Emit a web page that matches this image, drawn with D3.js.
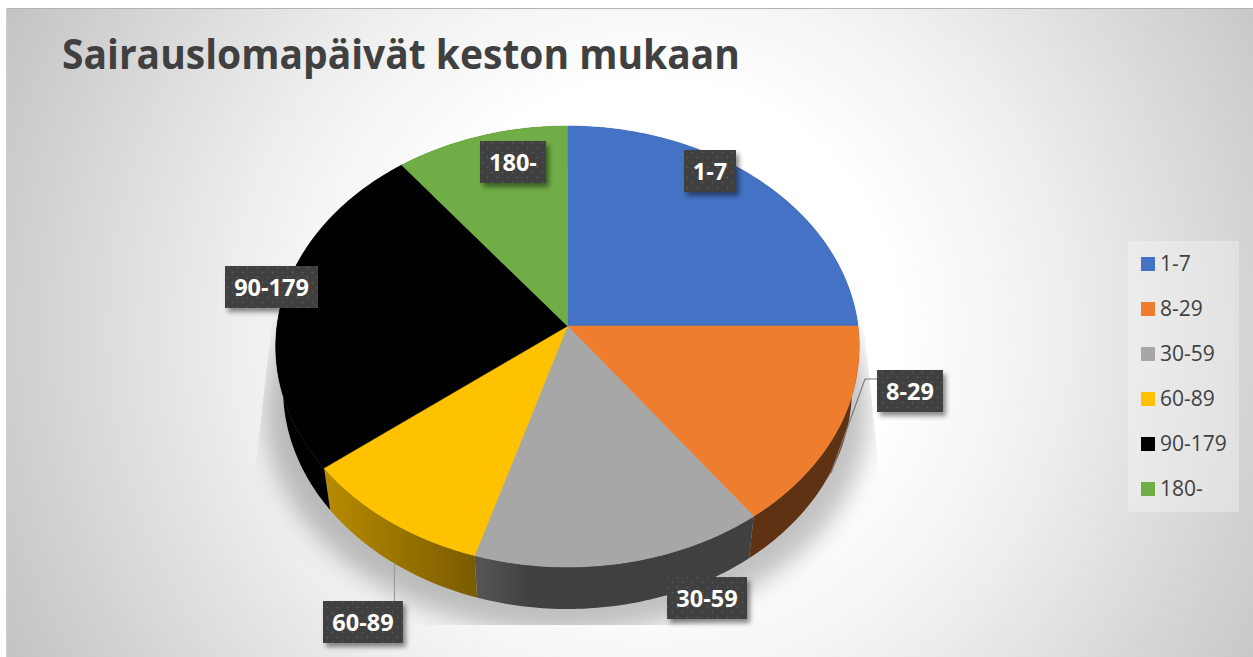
<!DOCTYPE html>
<html>
<head>
<meta charset="utf-8">
<script src="https://cdn.jsdelivr.net/npm/d3@7"></script>
<style>
  html, body { margin: 0; padding: 0; background: #fff; overflow: hidden; }
  text { font-family: "Open Sans", sans-serif; }
</style>
</head>
<body>
<svg width="1253" height="657"></svg>
<script>
var titleText = "Sairauslomapäivät keston mukaan";
var categories = ["1-7", "8-29", "30-59", "60-89", "90-179", "180-"];
var shares = [25, 14.9, 14.8, 9.8, 25, 10.5];
var topColors = ["#4472c4", "#ef7d2e", "#a7a7a7", "#ffc200", "#000000", "#70ad47"];
var wallLeftColors = ["#22396a", "#5f3213", "#565656", "#b88b00", "#000000", "#38562a"];
var wallRightColors = ["#22396a", "#5f3213", "#404040", "#7a5c00", "#000000", "#38562a"];

// Perspective of the pie, measured on the picture
var apex = {x: 567.5, y: 326},
    rx = 290.5,
    ry = 218.6,
    persp = 0.093,
    depth = 42,
    bottomScale = 0.975;

var svg = d3.select("svg");
var defs = svg.append("defs");

var bg = defs.append("radialGradient")
    .attr("id", "bg")
    .attr("gradientUnits", "userSpaceOnUse")
    .attr("cx", 650).attr("cy", 330).attr("r", 715);
[[0, "#ffffff"], [0.35, "#ffffff"], [0.58, "#eeeeee"], [0.8, "#d8d8d8"], [1, "#c4c4c4"]].forEach(function(s) {
  bg.append("stop").attr("offset", s[0]).attr("stop-color", s[1]);
});

defs.append("filter").attr("id", "shadowBlur")
    .attr("x", "-20%").attr("y", "-20%").attr("width", "140%").attr("height", "140%")
  .append("feGaussianBlur").attr("stdDeviation", 12);
defs.append("filter").attr("id", "edgeBlur")
  .append("feGaussianBlur").attr("stdDeviation", 0.8);

var boxShadow = defs.append("filter").attr("id", "boxShadow")
    .attr("x", "-20%").attr("y", "-20%").attr("width", "150%").attr("height", "150%");
boxShadow.append("feDropShadow")
    .attr("dx", 3).attr("dy", 4).attr("stdDeviation", 2.5)
    .attr("flood-color", "#000").attr("flood-opacity", 0.45);

var dots = defs.append("pattern").attr("id", "dots")
    .attr("patternUnits", "userSpaceOnUse").attr("width", 10).attr("height", 10);
dots.append("rect").attr("width", 10).attr("height", 10).attr("fill", "#3f3f3f");
dots.append("circle").attr("cx", 2.5).attr("cy", 2.5).attr("r", 0.9).attr("fill", "#5a5a5a");
dots.append("circle").attr("cx", 7.5).attr("cy", 7.5).attr("r", 0.9).attr("fill", "#5a5a5a");

defs.append("clipPath").attr("id", "shadowClip")
  .append("polygon").attr("points", "278,270 858,270 880,480 880,625 254,625 254,480");

// Chart background
svg.append("rect").attr("x", 6).attr("y", 8).attr("width", 1247).attr("height", 649).attr("fill", "url(#bg)");
svg.append("line").attr("x1", 6).attr("x2", 1253).attr("y1", 8.5).attr("y2", 8.5).attr("stroke", "#b4b4b4");
svg.append("line").attr("x1", 6.5).attr("x2", 6.5).attr("y1", 8).attr("y2", 657).attr("stroke", "#cfcfcf");

// Title
svg.append("text")
    .attr("x", 62).attr("y", 69)
    .attr("font-size", 42).attr("font-weight", 700).attr("fill", "#404040")
    .attr("textLength", 678).attr("lengthAdjust", "spacingAndGlyphs")
    .text(titleText);

// Project a point of the unit disc on the picture
function project(angle, r, bottom) {
  var u = r * Math.sin(angle),
      v = -r * Math.cos(angle),
      w = 1 - persp * v,
      px = rx * u / w,
      py = ry * v / w;
  if (bottom) return [apex.x + px * bottomScale, apex.y + py + depth];
  return [apex.x + px, apex.y + py];
}

function arcPoints(d, bottom) {
  var n = Math.ceil((d.endAngle - d.startAngle) * 60);
  return d3.range(n + 1).map(function(i) {
    return project(d.startAngle + (d.endAngle - d.startAngle) * i / n, 1, bottom);
  });
}

var pie = d3.pie().sort(null).value(function(d) { return d; });
var slices = pie(shares);
var line = d3.line();
var colorTop = d3.scaleOrdinal().domain(categories).range(topColors);

// Shadow under the pie, cut by a trapezoid
var fullDisc = {startAngle: 0, endAngle: 2 * Math.PI};
svg.append("g").attr("clip-path", "url(#shadowClip)").attr("filter", "url(#edgeBlur)")
  .append("path")
    .attr("d", line(arcPoints(fullDisc, true).map(function(p) {
      return [apex.x + (p[0] - apex.x) * 1.06, p[1] + 24];
    })) + "Z")
    .attr("fill", "#000").attr("fill-opacity", 0.24)
    .attr("filter", "url(#shadowBlur)");

// Walls
slices.forEach(function(d, i) {
  var top = arcPoints(d, false), bot = arcPoints(d, true);
  var grad = defs.append("linearGradient").attr("id", "wall" + i)
      .attr("gradientUnits", "userSpaceOnUse")
      .attr("x1", d3.min(top, function(p) { return p[0]; })).attr("y1", 0)
      .attr("x2", d3.max(top, function(p) { return p[0]; })).attr("y2", 0);
  grad.append("stop").attr("offset", 0).attr("stop-color", wallLeftColors[i]);
  grad.append("stop").attr("offset", i == 2 ? 0.2 : 1).attr("stop-color", wallRightColors[i]);
  svg.append("path")
      .attr("d", line(top.concat(bot.slice().reverse())) + "Z")
      .attr("fill", "url(#wall" + i + ")");
});

// Top faces
slices.forEach(function(d, i) {
  svg.append("path")
      .attr("d", line([project(0, 0, false)].concat(arcPoints(d, false))) + "Z")
      .attr("fill", colorTop(categories[i]))
      .attr("stroke", colorTop(categories[i])).attr("stroke-width", 0.5);
});

// Leader lines
svg.append("path").attr("d", "M877,379H865L831,473").attr("fill", "none").attr("stroke", "#7a7a7a").attr("stroke-width", 1.2);
svg.append("path").attr("d", "M394.5,563V601").attr("fill", "none").attr("stroke", "#9c9c9c").attr("stroke-width", 1.2);

// Data labels
var labelBoxes = [[684, 150, 52], [877, 370, 66], [667, 577, 80], [323, 601, 80], [225, 266, 93], [480, 141, 66]];
categories.forEach(function(name, i) {
  var b = labelBoxes[i];
  svg.append("rect")
      .attr("x", b[0]).attr("y", b[1]).attr("width", b[2]).attr("height", 42)
      .attr("fill", "url(#dots)").attr("filter", "url(#boxShadow)");
  svg.append("text")
      .attr("x", b[0] + b[2] / 2).attr("y", b[1] + 29.5)
      .attr("text-anchor", "middle")
      .attr("font-size", 23.5).attr("font-weight", 700).attr("fill", "#fff")
      .text(name);
});

// Legend
var legendY = d3.scalePoint().domain(categories).range([264, 489]);
svg.append("rect")
    .attr("x", 1128).attr("y", 241).attr("width", 111).attr("height", 271)
    .attr("fill", "#fff").attr("fill-opacity", 0.3);
var legend = svg.append("g").selectAll("g").data(categories).enter().append("g")
    .attr("transform", function(d) { return "translate(0," + legendY(d) + ")"; });
legend.append("rect")
    .attr("x", 1141).attr("y", -7).attr("width", 14).attr("height", 14)
    .attr("fill", function(d) { return colorTop(d); });
legend.append("text")
    .attr("x", 1160).attr("y", 7)
    .attr("font-size", 21).attr("fill", "#404040")
    .text(function(d) { return d; });
</script>
</body>
</html>
